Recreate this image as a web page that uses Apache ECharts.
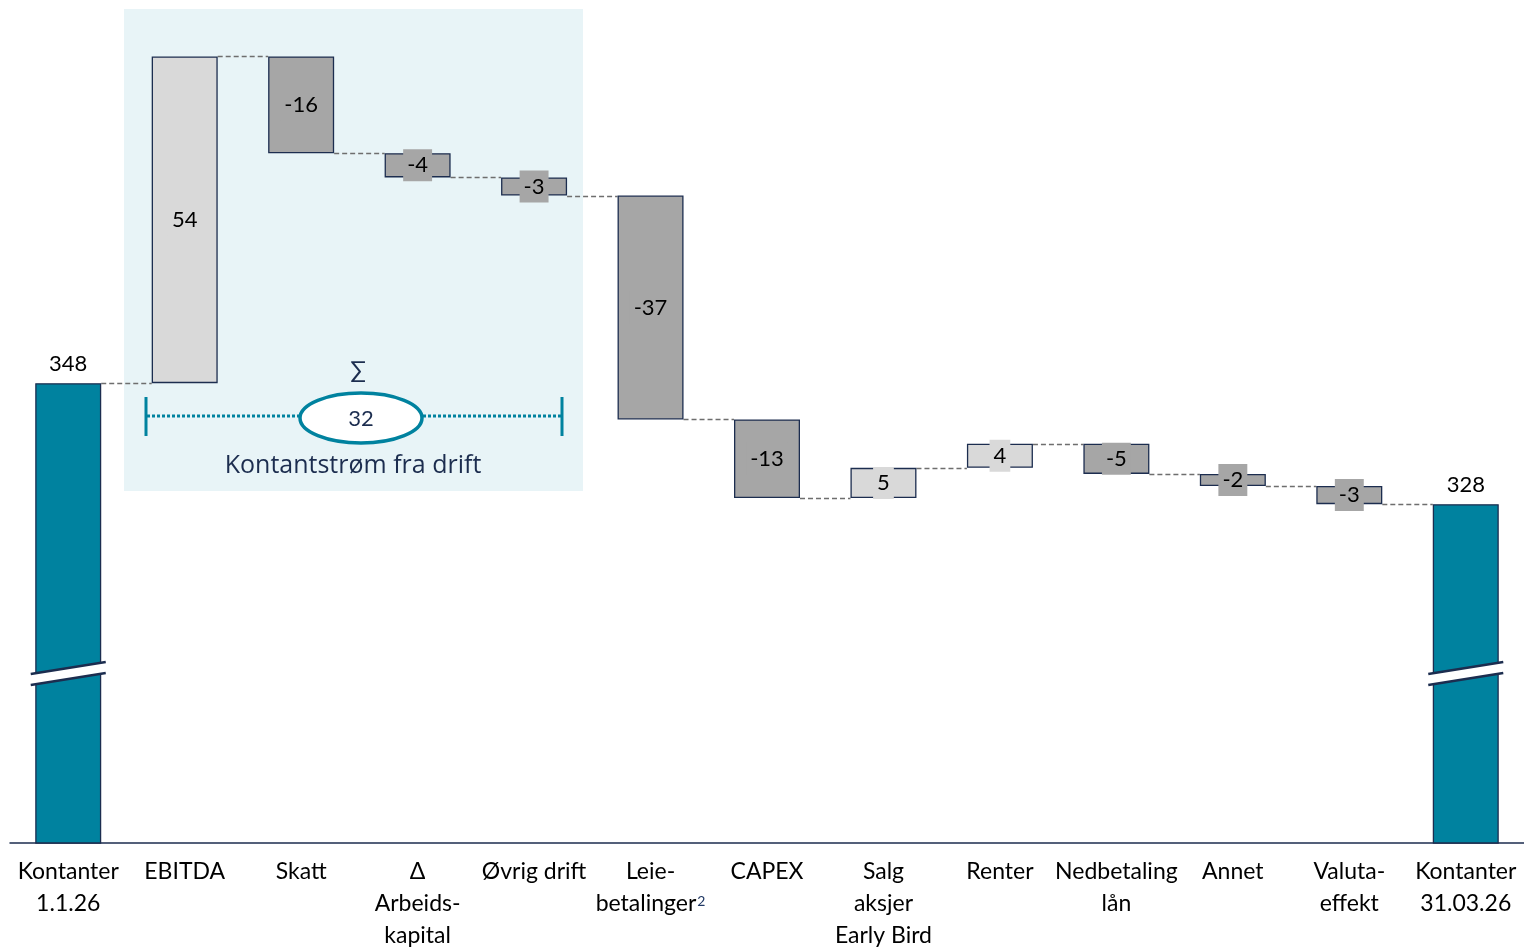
<!DOCTYPE html>
<html>
<head>
<meta charset="utf-8">
<script src="https://cdn.jsdelivr.net/npm/echarts@6/dist/echarts.min.js"></script>
<style>
  html, body { margin: 0; padding: 0; background: #ffffff; overflow: hidden; }
  #chart { width: 1524px; height: 948px; }
</style>
</head>
<body>
<div id="chart"></div>
<script>
// Kontantstrøm – bro fra inngående til utgående kontantbeholdning
const categories = [
  'Kontanter\n1.1.26', 'EBITDA', 'Skatt', 'Δ\nArbeids-\nkapital', 'Øvrig drift',
  'Leie-\nbetalinger{sup|2}', 'CAPEX', 'Salg\naksjer\nEarly Bird', 'Renter',
  'Nedbetaling\nlån', 'Annet', 'Valuta-\neffekt', 'Kontanter\n31.03.26'
];
const openingCash = 348;
const closingCash = 328;
const changes = [null, 54, -16, -4, -3, -37, -13, 5, 4, -5, -2, -3, null];
const driftSum = 32;
const driftTitle = 'Kontantstrøm fra drift';
const axisBreakValue = 300;

const FONT = 'Lato, "Liberation Sans", sans-serif';
const FONT_WIDE = '"Open Sans", "Noto Sans", sans-serif';
const TEAL = '#00829f';
const NAVY = '#1c2d4f';
const LIGHT = '#d9d9d9';
const DARK = '#a6a6a6';
const BAR_W = 66;

// stacked waterfall: invisible base + visible segment
const baseData = [];
const barData = [];
const levels = [];
let running = openingCash;
categories.forEach((c, i) => {
  const last = categories.length - 1;
  if (i === 0 || i === last) {
    const v = i === 0 ? openingCash : closingCash;
    baseData.push('-');
    barData.push({
      value: v,
      itemStyle: { color: TEAL, borderColor: NAVY, borderWidth: 1.3 },
      label: { position: 'top', distance: 6, backgroundColor: 'transparent', padding: 0 }
    });
    levels.push(v);
  } else {
    const d = changes[i];
    const next = running + d;
    const fill = d >= 0 ? LIGHT : DARK;
    baseData.push(Math.min(running, next));
    barData.push({
      value: Math.abs(d),
      itemStyle: { color: fill, borderColor: NAVY, borderWidth: 1.3 },
      label: { position: 'inside', backgroundColor: fill, padding: [3, 4, 2, 4] }
    });
    running = next;
    levels.push(running);
  }
});

const connectorData = levels.slice(0, -1).map((lvl, i) => [i, lvl]);
const breakData = [[0, axisBreakValue], [categories.length - 1, axisBreakValue]];

const chart = echarts.init(document.getElementById('chart'), null, { renderer: 'canvas' });

chart.setOption({
  animation: false,
  backgroundColor: '#ffffff',
  textStyle: { fontFamily: FONT },
  grid: { left: 10, right: 0, top: 8, height: 835, containLabel: false, outerBoundsMode: 'none' },
  xAxis: {
    type: 'category',
    data: categories,
    boundaryGap: true,
    axisLine: { show: true, lineStyle: { color: NAVY, width: 1.5 } },
    axisTick: { show: false },
    axisLabel: {
      interval: 0,
      margin: 13,
      color: '#000000',
      fontFamily: FONT,
      fontSize: 23,
      lineHeight: 32,
      rich: {
        sup: { fontSize: 14, color: '#203864', fontFamily: FONT, lineHeight: 32,
               verticalAlign: 'middle', padding: [0, 0, 5, 1] }
      }
    }
  },
  yAxis: {
    type: 'value',
    min: 272,
    max: 410,
    show: false,
    splitLine: { show: false }
  },
  graphic: [
    {
      type: 'rect', z: 0,
      shape: { x: 124, y: 9, width: 459, height: 482 },
      style: { fill: '#e8f4f7' }
    },
    {
      type: 'line', z: 10,
      shape: { x1: 147, y1: 416, x2: 299, y2: 416 },
      style: { stroke: TEAL, lineWidth: 3, lineDash: [3, 2] }
    },
    {
      type: 'line', z: 10,
      shape: { x1: 423, y1: 416, x2: 561, y2: 416 },
      style: { stroke: TEAL, lineWidth: 3, lineDash: [3, 2] }
    },
    {
      type: 'line', z: 10,
      shape: { x1: 146, y1: 397, x2: 146, y2: 436 },
      style: { stroke: TEAL, lineWidth: 3 }
    },
    {
      type: 'line', z: 10,
      shape: { x1: 562, y1: 397, x2: 562, y2: 436 },
      style: { stroke: TEAL, lineWidth: 3 }
    },
    {
      type: 'ellipse', z: 11,
      shape: { cx: 361, cy: 418, rx: 61, ry: 25 },
      style: { fill: '#ffffff', stroke: TEAL, lineWidth: 3.5 }
    },
    {
      type: 'text', z: 12,
      style: { text: String(driftSum), x: 361, y: 419, align: 'center', verticalAlign: 'middle',
               fill: NAVY, font: '22px ' + FONT }
    },
    {
      type: 'text', z: 12,
      style: { text: '∑', x: 358, y: 371, align: 'center', verticalAlign: 'middle',
               fill: NAVY, font: '23px ' + FONT }
    },
    {
      type: 'text', z: 12,
      style: { text: driftTitle, x: 353, y: 466, align: 'center', verticalAlign: 'middle',
               fill: NAVY, font: '25px ' + FONT_WIDE }
    }
  ],
  series: [
    {
      name: 'base',
      type: 'bar',
      stack: 'wf',
      barWidth: BAR_W,
      silent: true,
      itemStyle: { color: 'transparent', borderColor: 'transparent' },
      data: baseData,
      z: 2
    },
    {
      name: 'endring',
      type: 'bar',
      stack: 'wf',
      barWidth: BAR_W,
      data: barData,
      z: 3,
      label: {
        show: true,
        color: '#000000',
        fontFamily: FONT,
        fontSize: 22,
        lineHeight: 27,
        formatter: p => {
          const d = changes[p.dataIndex];
          return d === null ? String(p.value) : String(d);
        }
      }
    },
    {
      name: 'forbindelser',
      type: 'custom',
      z: 1,
      silent: true,
      encode: { x: 0, y: 1 },
      data: connectorData,
      renderItem: (params, api) => {
        const i = api.value(0);
        const lvl = api.value(1);
        const a = api.coord([i, lvl]);
        const b = api.coord([i + 1, lvl]);
        const y = Math.round(a[1]) + 0.5;
        return {
          type: 'line',
          shape: { x1: a[0] + BAR_W / 2, y1: y, x2: b[0] - BAR_W / 2, y2: y },
          style: { stroke: '#6e6e6e', lineWidth: 1.4, lineDash: [5, 3] }
        };
      }
    },
    {
      name: 'aksebrudd',
      type: 'custom',
      z: 6,
      silent: true,
      encode: { x: 0, y: 1 },
      data: breakData,
      renderItem: (params, api) => {
        const p = api.coord([api.value(0), api.value(1)]);
        const cx = p[0], cy = p[1];
        const hw = 37.5;
        return {
          type: 'group',
          children: [
            {
              type: 'polygon',
              shape: { points: [[cx - hw, cy + 0.5], [cx + hw, cy - 11.5], [cx + hw, cy - 0.5], [cx - hw, cy + 11.5]] },
              style: { fill: '#ffffff' }
            },
            {
              type: 'line',
              shape: { x1: cx - hw, y1: cy + 0.5, x2: cx + hw, y2: cy - 11.5 },
              style: { stroke: NAVY, lineWidth: 2.5 }
            },
            {
              type: 'line',
              shape: { x1: cx - hw, y1: cy + 11.5, x2: cx + hw, y2: cy - 0.5 },
              style: { stroke: NAVY, lineWidth: 2.5 }
            }
          ]
        };
      }
    }
  ]
});
</script>
</body>
</html>
